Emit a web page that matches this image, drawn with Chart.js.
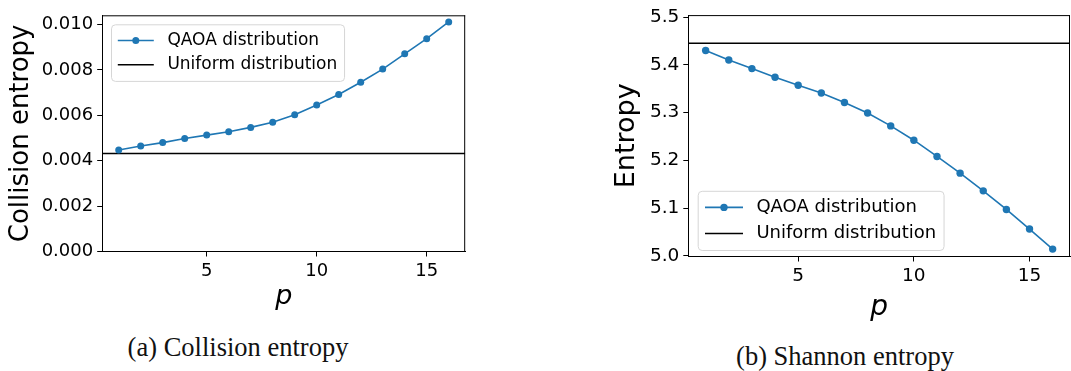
<!DOCTYPE html>
<html>
<head>
<meta charset="utf-8">
<script src="https://cdn.jsdelivr.net/npm/chart.js@4.4.1/dist/chart.umd.min.js"></script>
<style>
  html, body { margin: 0; padding: 0; background: #fff; overflow: hidden; width: 1071px; height: 371px; }
  canvas { position: absolute; top: 0; }
  #collisionChart { left: 0; }
  #shannonChart { left: 590px; }
  .caption {
    position: absolute;
    font-family: "Liberation Serif", serif;
    font-size: 26.5px;
    line-height: 1;
    color: #111;
    white-space: nowrap;
    transform: translateX(-50%);
  }
</style>
</head>
<body>
<canvas id="collisionChart" width="480" height="330"></canvas>
<canvas id="shannonChart" width="484" height="340"></canvas>
<div class="caption" style="left:238px; top:334px;">(a) Collision entropy</div>
<div class="caption" style="left:845px; top:343px;">(b) Shannon entropy</div>

<script>
// circuit depth p
const pValues = [1, 2, 3, 4, 5, 6, 7, 8, 9, 10, 11, 12, 13, 14, 15, 16];
const pTicks = [5, 10, 15];
const P_MIN = 0.25;
const P_MAX = 16.75;

// collision entropy per depth, plus the uniform baseline
const collisionQAOA = [0.00447, 0.00465, 0.00480, 0.00498, 0.00513, 0.00528, 0.00547, 0.00570,
                       0.00603, 0.00646, 0.00692, 0.00746, 0.00804, 0.00871, 0.00938, 0.01012];
const collisionUniform = 0.00432;
const collisionTicks = [0, 0.002, 0.004, 0.006, 0.008, 0.010];

// shannon entropy per depth, plus the uniform baseline
const shannonQAOA = [5.430, 5.410, 5.392, 5.374, 5.357, 5.341, 5.321, 5.299,
                     5.272, 5.242, 5.208, 5.173, 5.136, 5.097, 5.056, 5.014];
const shannonUniform = 5.445;
const shannonTicks = [5.0, 5.1, 5.2, 5.3, 5.4, 5.5];

const seriesLabels = ['QAOA distribution', 'Uniform distribution'];
const BLUE = '#1f77b4';
const FONT = '"DejaVu Sans", sans-serif';

// top + right spines (chart.js only draws the left/bottom borders)
const spines = {
  id: 'spines',
  afterDraw(chart) {
    const { ctx, chartArea: a } = chart;
    ctx.save();
    ctx.strokeStyle = '#000';
    ctx.lineWidth = 1;
    ctx.beginPath();
    ctx.moveTo(a.left, a.top + 0.5);
    ctx.lineTo(a.right, a.top + 0.5);
    ctx.moveTo(a.right - 0.5, a.top);
    ctx.lineTo(a.right - 0.5, a.bottom);
    ctx.stroke();
    ctx.restore();
  }
};

// framed legend sitting inside the plot area
const boxLegend = {
  id: 'boxLegend',
  afterDraw(chart, args, o) {
    const { ctx, chartArea: a } = chart;
    const sets = chart.data.datasets;
    ctx.save();
    ctx.font = o.fontSize + 'px ' + FONT;
    const textW = Math.max(...sets.map(d => ctx.measureText(d.label).width));
    const w = o.pad + o.handle + o.gap + textW + o.pad;
    const h = o.rowH * sets.length + 2 * o.padY;
    const x = a.left + o.dx;
    const y = o.anchor === 'top' ? a.top + o.dy : a.bottom - o.dy - h;

    ctx.beginPath();
    if (ctx.roundRect) ctx.roundRect(x + 0.5, y + 0.5, w, h, 4);
    else ctx.rect(x + 0.5, y + 0.5, w, h);
    ctx.fillStyle = 'rgba(255,255,255,0.8)';
    ctx.fill();
    ctx.strokeStyle = '#d6d6d6';
    ctx.lineWidth = 1;
    ctx.stroke();

    sets.forEach((d, i) => {
      const cy = y + o.padY + o.rowH * (i + 0.5);
      const x0 = x + o.pad;
      const x1 = x0 + o.handle;
      ctx.strokeStyle = d.borderColor;
      ctx.lineWidth = d.borderWidth;
      ctx.beginPath();
      ctx.moveTo(x0, cy);
      ctx.lineTo(x1, cy);
      ctx.stroke();
      if (d.pointRadius > 0) {
        ctx.fillStyle = d.pointBackgroundColor;
        ctx.beginPath();
        ctx.arc((x0 + x1) / 2, cy, d.pointRadius, 0, Math.PI * 2);
        ctx.fill();
      }
      ctx.fillStyle = '#000';
      ctx.textAlign = 'left';
      ctx.textBaseline = 'middle';
      ctx.fillText(d.label, x1 + o.gap, cy);
    });
    ctx.restore();
  }
};

function makeChart(id, cfg) {
  const qaoa = pValues.map((p, i) => ({ x: p, y: cfg.values[i] }));
  const uniform = [{ x: P_MIN, y: cfg.uniform }, { x: P_MAX, y: cfg.uniform }];
  const tickMarks = { display: true, drawOnChartArea: false, drawTicks: true, tickLength: 5, tickWidth: 1, tickColor: '#000' };

  return new Chart(document.getElementById(id), {
    type: 'line',
    data: {
      datasets: [{
        label: seriesLabels[0],
        data: qaoa,
        borderColor: BLUE,
        backgroundColor: BLUE,
        pointBackgroundColor: BLUE,
        pointBorderWidth: 0,
        pointRadius: cfg.dot,
        borderWidth: 1.6,
        tension: 0
      }, {
        label: seriesLabels[1],
        data: uniform,
        borderColor: '#000',
        backgroundColor: '#000',
        pointRadius: 0,
        borderWidth: 1.5
      }]
    },
    options: {
      responsive: false,
      animation: false,
      layout: { padding: cfg.padding },
      scales: {
        x: {
          type: 'linear',
          min: P_MIN,
          max: P_MAX,
          afterBuildTicks: s => { s.ticks = pTicks.map(v => ({ value: v })); },
          afterFit: s => { s.height = cfg.xHeight; },
          grid: tickMarks,
          border: { display: true, color: '#000', width: 1 },
          ticks: { color: '#000', padding: 4, maxRotation: 0, font: { family: FONT, size: cfg.tickSize } },
          title: {
            display: true,
            text: 'p',
            color: '#000',
            padding: { top: 0, bottom: cfg.pPad },
            font: { family: FONT, size: cfg.pSize, style: 'italic', lineHeight: 1 }
          }
        },
        y: {
          min: cfg.yMin,
          max: cfg.yMax,
          afterBuildTicks: s => { s.ticks = cfg.ticks.map(v => ({ value: v })); },
          afterFit: s => { s.width = cfg.yWidth; },
          grid: tickMarks,
          border: { display: true, color: '#000', width: 1 },
          ticks: {
            color: '#000',
            padding: 4,
            font: { family: FONT, size: cfg.tickSize },
            callback: v => v.toFixed(cfg.decimals)
          },
          title: {
            display: true,
            text: cfg.yTitle,
            color: '#000',
            padding: { top: cfg.yTitlePad, bottom: 0 },
            font: { family: FONT, size: cfg.titleSize, lineHeight: 1 }
          }
        }
      },
      plugins: {
        legend: { display: false },
        tooltip: { enabled: false },
        boxLegend: cfg.legend
      }
    },
    plugins: [spines, boxLegend]
  });
}

makeChart('collisionChart', {
  values: collisionQAOA,
  uniform: collisionUniform,
  ticks: collisionTicks,
  yMin: 0,
  yMax: 0.01041,
  decimals: 3,
  yTitle: 'Collision entropy',
  padding: { top: 15.3, right: 14.8, left: 0, bottom: 0 },
  yWidth: 102.2,
  xHeight: 78.5,
  tickSize: 18,
  titleSize: 26,
  yTitlePad: 8,
  pSize: 27,
  pPad: 19.5,
  dot: 3.5,
  legend: { anchor: 'top', dx: 8.8, dy: 9, fontSize: 17, pad: 6.8, handle: 36, gap: 13.6, rowH: 24.3, padY: 4 }
});

makeChart('shannonChart', {
  values: shannonQAOA,
  uniform: shannonUniform,
  ticks: shannonTicks,
  yMin: 4.9985,
  yMax: 5.504,
  decimals: 1,
  yTitle: 'Entropy',
  padding: { top: 10.7, right: 1.5, left: 0, bottom: 0 },
  yWidth: 98.3,
  xHeight: 83.5,
  tickSize: 18.5,
  titleSize: 27,
  yTitlePad: 23.5,
  pSize: 28,
  pPad: 18.5,
  dot: 3.7,
  legend: { anchor: 'bottom', dx: 9.4, dy: 6.5, fontSize: 18, pad: 7.3, handle: 38, gap: 13.4, rowH: 26, padY: 3.6 }
});
</script>
</body>
</html>
